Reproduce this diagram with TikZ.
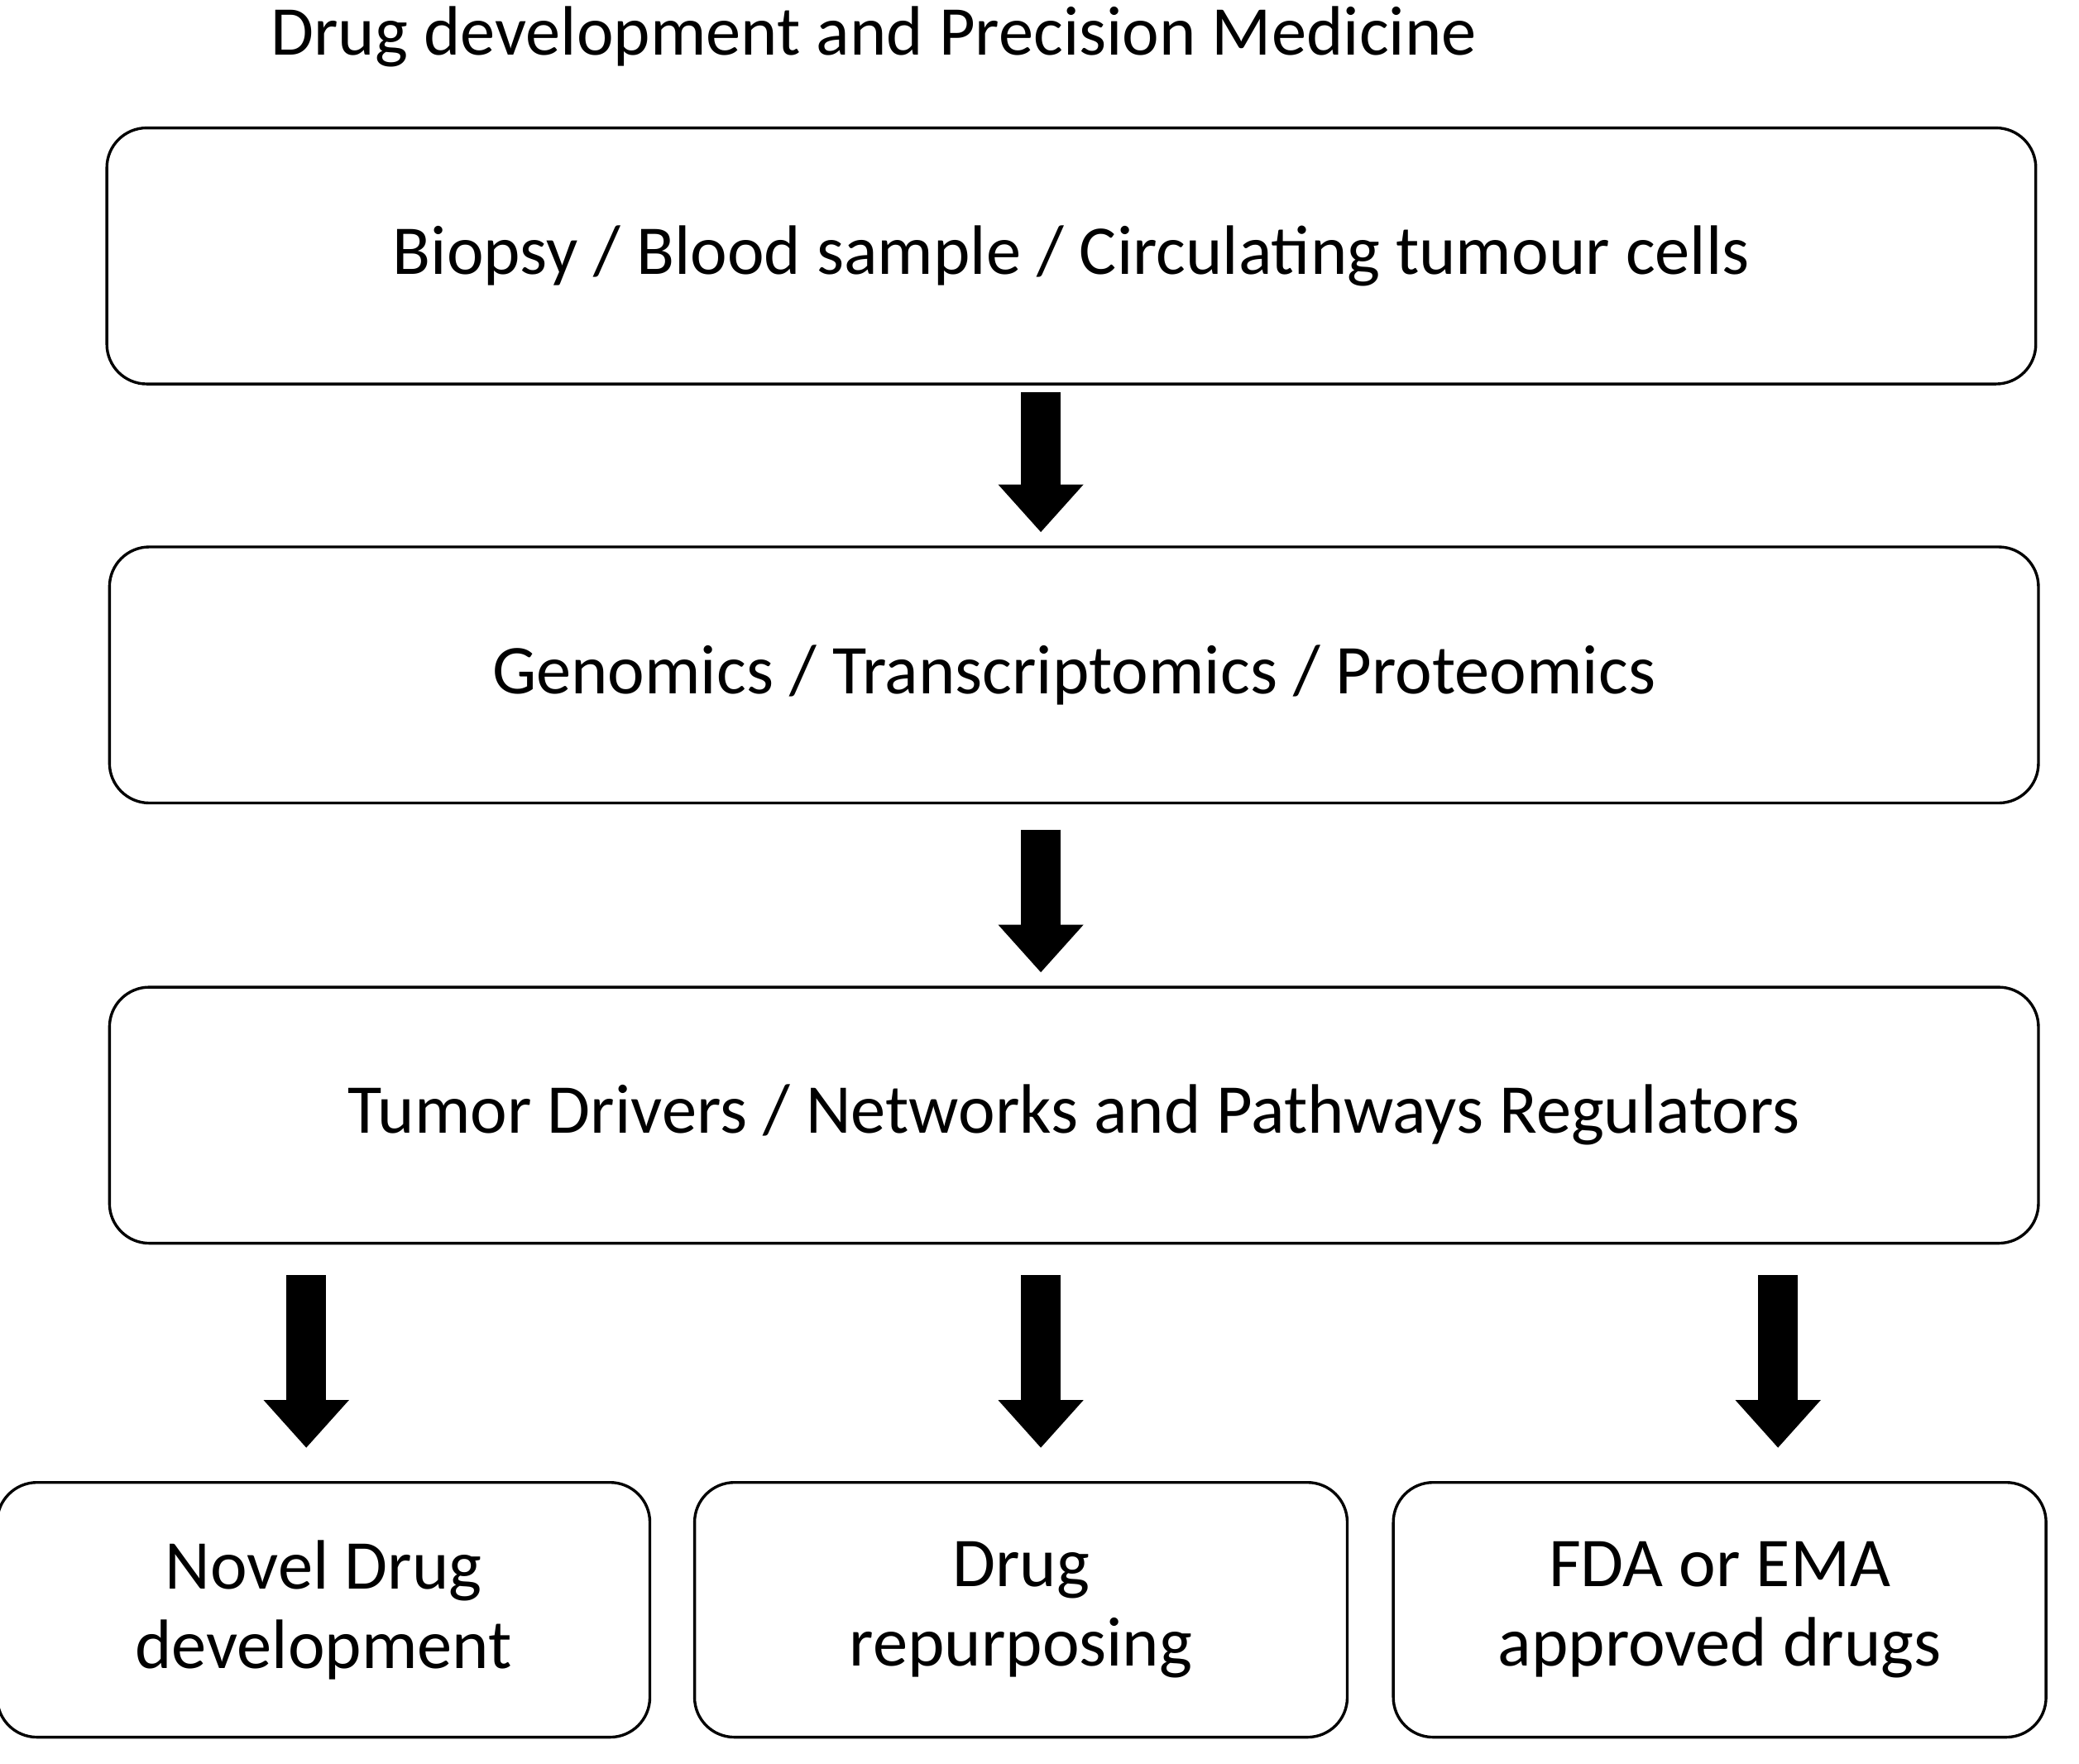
\documentclass[tikz,border=0pt]{standalone}
\usepackage{fontspec}
\setmainfont{Carlito}
\usetikzlibrary{arrows.meta,positioning}
\tikzset{
  stage/.style={draw, rounded corners=0.3cm, line width=0.6pt, minimum width=14.54cm,
    minimum height=1.93cm, font=\fontsize{15}{18}\selectfont},
  result/.style={draw, rounded corners=0.3cm, line width=0.6pt, minimum width=4.92cm,
    minimum height=1.92cm, align=center, font=\fontsize{15}{17}\selectfont},
  flow/.style={line width=0.3cm, -{Triangle[length=0.36cm,width=0.62cm]}}
}
\begin{document}
\begin{tikzpicture}[x=0.01cm,y=-0.01cm]
  \useasboundingbox (0,0) rectangle (1568,1330);
  \node[font=\fontsize{15}{18}\selectfont] (title) at (659,28) {Drug development and Precision Medicine};
  \node[stage] (sample) at (808,193) {Biopsy / Blood sample / Circulating tumour cells};
  \node[stage] (omics) at (810,509) {Genomics / Transcriptomics / Proteomics};
  \node[stage] (drivers) at (810,841) {Tumor Drivers / Networks and Pathways Regulators};
  \node[result] (novel) at (244,1214) {Novel Drug\\development};
  \node[result] (repurp) at (770,1214) {Drug\\repurposing};
  \node[result] (approved) at (1297,1214) {FDA or EMA\\approved drugs};
  % arrows between stages
  \draw[flow, shorten <=0.05cm, shorten >=0.1cm] (sample.south -| 785,0) -- (omics.north -| 785,0);
  \draw[flow, shorten <=0.19cm, shorten >=0.1cm] (omics.south -| 785,0) -- (drivers.north -| 785,0);
  \draw[flow, shorten <=0.23cm, shorten >=0.25cm] (drivers.south -| 231,0) -- (novel.north -| 231,0);
  \draw[flow, shorten <=0.23cm, shorten >=0.25cm] (drivers.south -| 785,0) -- (repurp.north -| 785,0);
  \draw[flow, shorten <=0.23cm, shorten >=0.25cm] (drivers.south -| 1341,0) -- (approved.north -| 1341,0);
\end{tikzpicture}
\end{document}
